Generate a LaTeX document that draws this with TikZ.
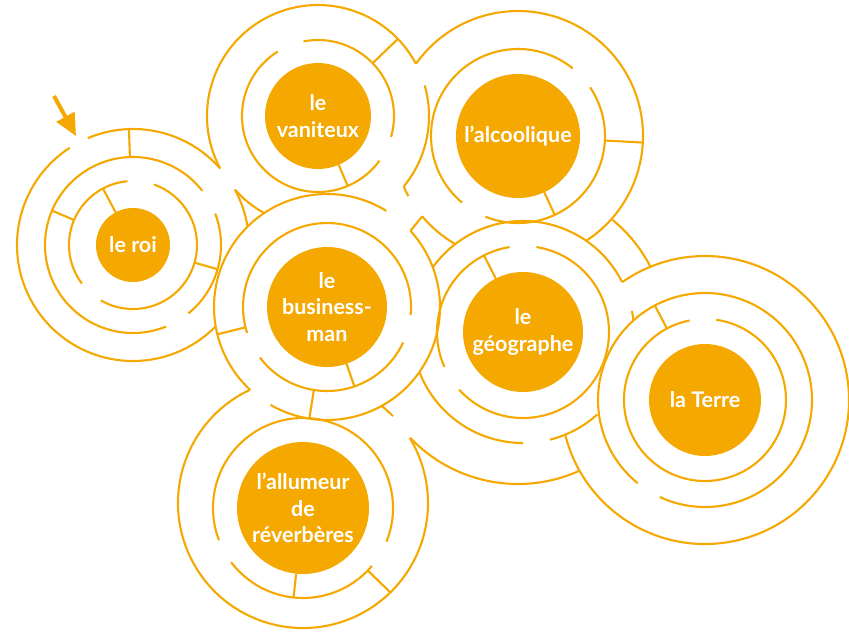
\documentclass[tikz,border=0pt]{standalone}
\usepackage{fontspec}
\setmainfont{Lato}
\usetikzlibrary{arrows.meta}
\definecolor{maze}{RGB}{244,168,0}
\newcommand{\wall}[4]{\draw ([shift={(#3:#2)}]#1.center) arc[start angle=#3, end angle=#4, radius=#2];}
\newcommand{\spoke}[4]{\draw ([shift={(#2:#3)}]#1.center) -- ([shift={(#2:#4)}]#1.center);}

\begin{document}
\begin{tikzpicture}[x=1pt, y=1pt, color=maze, line width=2.1pt,
  planet/.style={circle, fill=maze, text=white, inner sep=0pt, align=center,
    font=\fontsize{21.5}{26.5}\selectfont\bfseries}]
\useasboundingbox (0,0) rectangle (849,-633);
% Planets:
\node[planet, minimum size=74pt]  (roi)   at (133,-245) {le roi};
\node[planet, minimum size=106pt] (van)   at (318,-116) {le\\vaniteux};
\node[planet, minimum size=124pt] (alc)   at (518,-136) {l’alcoolique};
\node[planet, minimum size=120pt] (bus)   at (327,-307) {le\\business-\\man};
\node[planet, minimum size=120pt] (geo)   at (523,-332) {le\\géographe};
\node[planet, minimum size=112pt] (terre) at (705,-400) {la Terre};
\node[planet, minimum size=132pt] (allu)  at (303,-508) {l’allumeur\\de\\réverbères};
\coordinate (gout) at (518,-335);
\coordinate (lout) at (303,-503);
% le roi
\wall{roi}{64}{95}{217}
\wall{roi}{64}{240}{431}
\spoke{roi}{118}{37}{64}
\wall{roi}{88}{38}{292}
\wall{roi}{88}{309}{381}
\spoke{roi}{157}{64}{88}
\spoke{roi}{344}{64}{88}
\wall{roi}{116}{123}{315.5}
\wall{roi}{116}{41.2}{113}
\wall{roi}{116}{9.1}{28.6}
\spoke{roi}{92}{88}{116}
% le vaniteux
\wall{van}{76}{122}{324}
\wall{van}{76}{344}{461}
\spoke{van}{293}{53}{76}
\spoke{van}{44}{76}{111}
\wall{van}{111}{28.1}{208}
\wall{van}{111}{221.8}{241}
\wall{van}{111}{320.5}{376}
% l'alcoolique
\wall{alc}{87}{51}{230}
\wall{alc}{87}{248}{394}
\spoke{alc}{295}{62}{87}
\spoke{alc}{-3}{87}{125}
\wall{alc}{125}{-56.9}{144.7}
\wall{alc}{125}{203.9}{208.8}
\wall{alc}{125}{220}{239.9}
\draw ([shift={(220:125)}]alc.center) -- ([shift={(42.4:113)}]bus.center);
% le business-man
\wall{bus}{84}{-5.5}{198}
\wall{bus}{84}{217}{335}
\spoke{bus}{289}{60}{84}
\spoke{bus}{194}{84}{113}
\spoke{bus}{261}{84}{113}
\wall{bus}{113}{58.3}{227.1}
\wall{bus}{113}{240}{402.4}
% le geographe
\wall{geo}{86}{99}{204}
\wall{geo}{86}{222}{441}
\spoke{geo}{117}{60}{86}
\wall{geo}{111}{26.7}{144.4}
\wall{geo}{111}{201}{270}
\wall{geo}{111}{284}{312}
\wall{geo}{111}{6}{11}
\wall{gout}{149}{27.3}{50.7}
\wall{gout}{149}{223.6}{294.3}
% la Terre
\wall{terre}{81}{101}{442}
\spoke{terre}{118}{81}{107}
\wall{terre}{107}{245}{591}
\wall{terre}{144}{193.9}{485}
% l'allumeur
\wall{allu}{90}{-22}{201}
\wall{allu}{90}{217}{320}
\spoke{allu}{264}{66}{90}
\spoke{allu}{316}{90}{122}
\wall{lout}{125}{115}{391.3}
\wall{lout}{125}{44}{51}
% Entry arrow:
\coordinate (arrowtail) at (54,-96);
\coordinate (entry) at ([shift={(117.6:123)}]roi.center);
\draw[line width=4pt, -{Triangle[length=22pt, width=20pt]}] (arrowtail) -- (entry);
\end{tikzpicture}
\end{document}
